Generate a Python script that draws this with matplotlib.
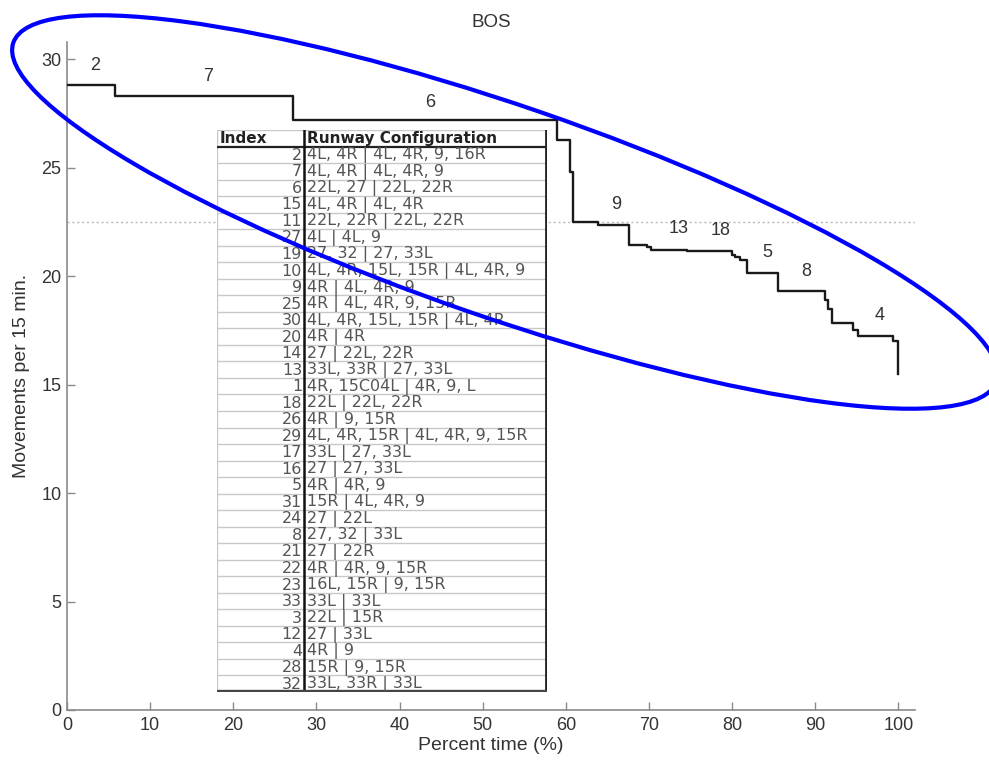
import matplotlib
matplotlib.use("Agg")
import matplotlib.pyplot as plt
from matplotlib.patches import Ellipse
from matplotlib.transforms import Affine2D

plt.rcParams['font.family'] = ['Liberation Sans', 'DejaVu Sans']

# ---- data ----
step_x = [0, 5.8, 27.2, 58.9, 60.5, 60.9, 63.9, 67.6, 69.8, 70.2, 74.6, 80.0, 80.4,
          81.0, 81.8, 85.5, 91.2, 91.5, 92.0, 94.6, 95.2, 99.4, 100.0]
step_y = [28.8, 28.3, 27.2, 26.3, 24.8, 22.5, 22.35, 21.45, 21.33, 21.23, 21.17, 21.0, 20.9,
          20.77, 20.15, 19.3, 18.9, 18.5, 17.84, 17.54, 17.23, 17.0, 15.5]
mean_level = 22.5

label_text = ['2', '7', '6', '9', '13', '18', '5', '8', '4']
label_x = [3.4, 17.0, 43.7, 66.1, 73.6, 78.6, 84.2, 88.9, 97.7]
label_y = [29.7, 29.2, 28.0, 23.3, 22.2, 22.1, 21.1, 20.2, 18.2]

table_index = [2, 7, 6, 15, 11, 27, 19, 10, 9, 25, 30, 20, 14, 13, 1, 18, 26, 29, 17, 16,
               5, 31, 24, 8, 21, 22, 23, 33, 3, 12, 4, 28, 32]
table_config = [
    "4L, 4R | 4L, 4R, 9, 16R",
    "4L, 4R | 4L, 4R, 9",
    "22L, 27 | 22L, 22R",
    "4L, 4R | 4L, 4R",
    "22L, 22R | 22L, 22R",
    "4L | 4L, 9",
    "27, 32 | 27, 33L",
    "4L, 4R, 15L, 15R | 4L, 4R, 9",
    "4R | 4L, 4R, 9",
    "4R | 4L, 4R, 9, 15R",
    "4L, 4R, 15L, 15R | 4L, 4R",
    "4R | 4R",
    "27 | 22L, 22R",
    "33L, 33R | 27, 33L",
    "4R, 15C04L | 4R, 9, L",
    "22L | 22L, 22R",
    "4R | 9, 15R",
    "4L, 4R, 15R | 4L, 4R, 9, 15R",
    "33L | 27, 33L",
    "27 | 27, 33L",
    "4R | 4R, 9",
    "15R | 4L, 4R, 9",
    "27 | 22L",
    "27, 32 | 33L",
    "27 | 22R",
    "4R | 4R, 9, 15R",
    "16L, 15R | 9, 15R",
    "33L | 33L",
    "22L | 15R",
    "27 | 33L",
    "4R | 9",
    "15R | 9, 15R",
    "33L, 33R | 33L",
]

W, H = 989, 760
fig = plt.figure(figsize=(W / 100, H / 100), dpi=100)
ax = fig.add_axes([67 / W, 50 / H, (915 - 67) / W, (710 - 42) / H])

spine_col = '#8a8a8a'
txt_col = '#333333'

ax.axhline(mean_level, color='#b8b8b8', lw=1.0, ls=(0, (1.5, 2)), zorder=1)
ax.step(step_x + [step_x[-1]], step_y + [step_y[-1]], where='post', color='#1a1a1a', lw=1.7, zorder=5)

for t, x, y in zip(label_text, label_x, label_y):
    ax.text(x, y, t, fontsize=13, color=txt_col, ha='center', va='center', zorder=6)

ax.set_xlim(0, 102)
ax.set_ylim(0, 30.8)
ax.set_xticks(range(0, 101, 10))
ax.set_yticks(range(0, 31, 5))
for s in ['top', 'right']:
    ax.spines[s].set_visible(False)
for s in ['left', 'bottom']:
    ax.spines[s].set_color(spine_col)
    ax.spines[s].set_linewidth(1.2)
ax.tick_params(direction='in', length=6, width=1.0, color=spine_col, labelsize=13,
               labelcolor=txt_col)
ax.tick_params(axis='y', pad=4)
ax.tick_params(axis='x', pad=5)
ax.set_xlabel('Percent time (%)', fontsize=14, color=txt_col, labelpad=2)
ax.set_ylabel('Movements per 15 min.', fontsize=14, color=txt_col, labelpad=8)
ax.set_title('BOS', fontsize=13.5, color=txt_col, pad=11)

# ---- table inset ----
tx0, tx1, ty0, ty1 = 217, 547, 130, 692
tax = fig.add_axes([tx0 / W, 1 - ty1 / H, (tx1 - tx0) / W, (ty1 - ty0) / H], zorder=3)
tw, th = tx1 - tx0, ty1 - ty0
tax.set_xlim(0, tw)
tax.set_ylim(th, 0)
tax.axis('off')
tax.add_patch(plt.Rectangle((0, 0), tw, th, facecolor='white', edgecolor='none', zorder=0))
nrows = len(table_index) + 1
rh = th / nrows
sep = 304 - tx0
for i in range(nrows + 1):
    y = i * rh
    if i == 1:
        tax.plot([0, tw], [y, y], color='#222222', lw=1.6, zorder=2)
    elif i < nrows:
        tax.plot([0, tw], [y, y], color='#c8c8c8', lw=1.0, zorder=1)
tax.plot([0, 0], [0, th], color='#c8c8c8', lw=1.0, zorder=1)
tax.plot([sep, sep], [0, th], color='#111111', lw=1.8, zorder=2)
tax.plot([tw - 1, tw - 1], [0, th], color='#222222', lw=2.0, zorder=2)
tax.plot([0, tw], [th - 1, th - 1], color='#444444', lw=2.4, zorder=2)
tax.text(3, rh / 2, 'Index', fontsize=11, fontweight='bold', family='DejaVu Sans',
         color='#222222', ha='left', va='center')
tax.text(sep + 3, rh / 2, 'Runway Configuration', fontsize=11, fontweight='bold',
         family='DejaVu Sans', color='#222222', ha='left', va='center')
for i, (idx, cfg) in enumerate(zip(table_index, table_config)):
    yc = (i + 1.5) * rh + 0.5
    tax.text(sep - 2, yc, str(idx), fontsize=11.5, family='DejaVu Sans', color='#555555',
             ha='right', va='center')
    tax.text(sep + 3, yc, cfg, fontsize=11.5, family='DejaVu Sans', color='#555555',
             ha='left', va='center')

# ---- blue annotation ellipse (image pixel coordinates) ----
pix = Affine2D().scale(1, -1).translate(0, H)
ell = Ellipse((505, 212), 2 * 520, 2 * 106, angle=19, fill=False, edgecolor='#0000ff',
              lw=3.0, transform=pix, zorder=10)
fig.patches.append(ell)

fig.savefig('out.png', dpi=100)
